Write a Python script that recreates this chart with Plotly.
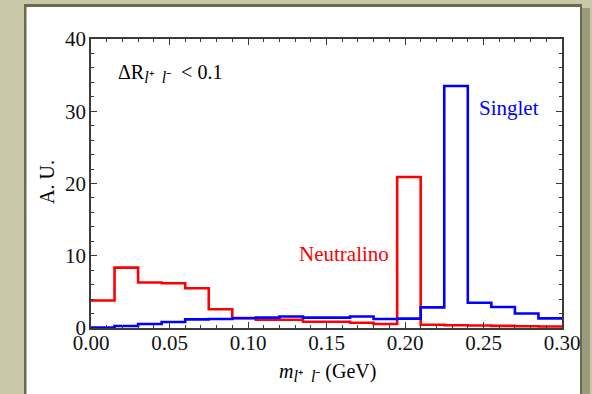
import plotly.graph_objects as go

# Histogram bins in m_ll (GeV), width 0.015
bin_edges = [round(0.015 * i, 3) for i in range(21)]

# Normalised counts (A.U.) per bin
neutralino = [3.8, 8.35, 6.3, 6.2, 5.5, 2.6, 1.38, 1.15, 1.15, 0.87,
              0.87, 0.73, 0.55, 20.9, 0.45, 0.38, 0.35, 0.3, 0.25, 0.2]
singlet = [0.05, 0.28, 0.55, 0.83, 1.2, 1.25, 1.35, 1.43, 1.6, 1.43,
           1.43, 1.6, 1.25, 1.3, 2.85, 33.5, 3.5, 2.9, 2.0, 1.33]

x_ticks = [0.0, 0.05, 0.10, 0.15, 0.20, 0.25, 0.30]
x_tick_text = ["0.00", "0.05", "0.10", "0.15", "0.20", "0.25", "0.30"]
y_ticks = [0, 10, 20, 30, 40]

W, H = 592, 394
L, R, T, B = 91, 562, 39, 328  # plot-area pixel box
pw, ph = R - L, B - T


def px(x):
    return (x - L) / pw


def py(y):
    return (B - y) / ph


SERIF = "Liberation Serif, Times New Roman, serif"
BG = "#c9c9a9"
EDGE = "#6b6a51"
# l+ l- subscript, kept fairly large
LL = ('<sub><span style="font-size:16px"><i>l</i>⁺&nbsp; <i>l</i>⁻</span></sub>')

fig = go.Figure()


def step_trace(vals, color):
    return go.Scatter(
        x=bin_edges, y=vals + [vals[-1]], mode="lines",
        line=dict(color=color, width=2.6, shape="hv"),
        showlegend=False, hoverinfo="skip")


fig.add_trace(step_trace(neutralino, "#ff0000"))
fig.add_trace(step_trace(singlet, "#0000ff"))

shapes = [
    # framed white panel
    dict(type="rect", xref="paper", yref="paper", layer="below",
         x0=px(24), x1=px(582), y0=py(4), y1=py(400),
         fillcolor=EDGE, line_width=0),
    dict(type="rect", xref="paper", yref="paper", layer="below",
         x0=px(582), x1=px(590), y0=py(8), y1=py(400),
         fillcolor="#9c9b80", line_width=0),
    dict(type="rect", xref="paper", yref="paper", layer="below",
         x0=px(26.5), x1=px(580), y0=py(7), y1=py(400),
         fillcolor="white", line_width=0),
]

annotations = [
    dict(xref="paper", yref="paper", x=px(116), y=py(73), xanchor="left",
         yanchor="middle", showarrow=False,
         text="ΔR" + LL + "&nbsp; &lt; 0.1",
         font=dict(family=SERIF, size=20, color="black")),
    dict(xref="paper", yref="paper", x=px(477), y=py(108), xanchor="left",
         yanchor="middle", showarrow=False, text="Singlet",
         font=dict(family=SERIF, size=21, color="#0000ff")),
    dict(xref="paper", yref="paper", x=px(297), y=py(254), xanchor="left",
         yanchor="middle", showarrow=False, text="Neutralino",
         font=dict(family=SERIF, size=21, color="#ff0000")),
    dict(xref="paper", yref="paper", x=px(47), y=py(182), xanchor="center",
         yanchor="middle", showarrow=False, text="A. U.", textangle=-90,
         font=dict(family=SERIF, size=20, color="black")),
    dict(xref="paper", yref="paper", x=px(327), y=py(372), xanchor="center",
         yanchor="middle", showarrow=False,
         text="<i>m</i>" + LL + " (GeV)",
         font=dict(family=SERIF, size=20, color="black")),
]

axis_common = dict(
    showline=True, linecolor="#3a3a3a", linewidth=1.5, mirror="allticks",
    ticks="inside", tickcolor="#3a3a3a", tickwidth=1.2, ticklen=6,
    showgrid=False, zeroline=False,
    tickfont=dict(family=SERIF, size=21, color="#111"),
)

fig.update_xaxes(range=[0, 0.30], tickvals=x_ticks, ticktext=x_tick_text,
                 ticklabelstandoff=-5,
                 minor=dict(dtick=0.01, ticks="inside", ticklen=3.5,
                            tickcolor="#3a3a3a", tickwidth=1),
                 **axis_common)
fig.update_yaxes(range=[0, 40], tickvals=y_ticks, ticklabelstandoff=-1,
                 minor=dict(dtick=2, ticks="inside", ticklen=3.5,
                            tickcolor="#3a3a3a", tickwidth=1),
                 **axis_common)

fig.update_layout(
    width=W, height=H,
    margin=dict(l=L, r=W - R, t=T, b=H - B),
    paper_bgcolor=BG, plot_bgcolor="rgba(0,0,0,0)",
    shapes=shapes, annotations=annotations,
)

fig.write_html("out.html")
